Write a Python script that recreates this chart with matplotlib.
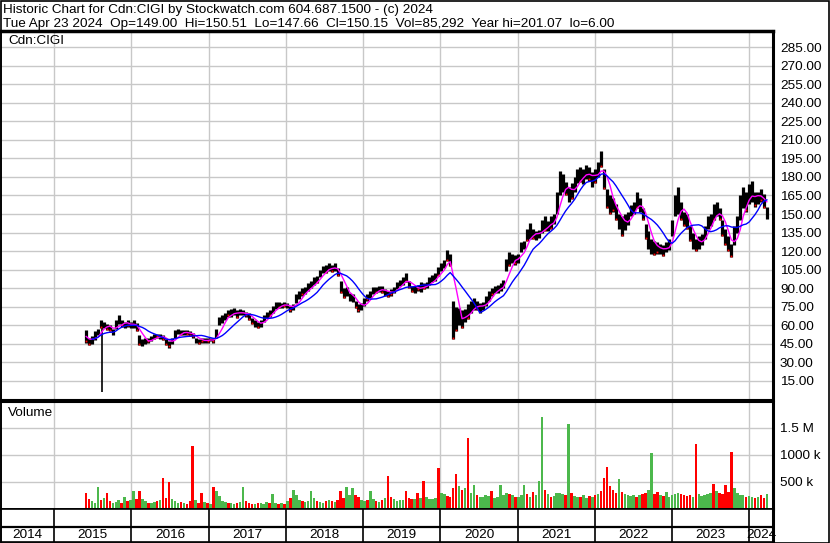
import matplotlib
matplotlib.use('Agg')
import matplotlib.pyplot as plt
from matplotlib.patches import Rectangle
import pandas as pd
import numpy as np

plt.rcParams['font.family'] = ['Liberation Sans', 'DejaVu Sans']
plt.rcParams['font.size'] = 9.7

# ---------------------------------------------------------------------------
# Data (one sample every 14 days from 2015-06-01)
# ---------------------------------------------------------------------------
first_date = '2015-06-01'
last_date = '2024-04-23'

price_lo = [
    46, 44, 45, 48, 52, 58, 58, 56, 55, 52,
    57, 61, 59, 58, 59, 58, 58, 55, 44, 43,
    45, 46, 47, 49, 50, 49, 48, 44, 42, 45,
    50, 53, 52, 52, 52, 51, 50, 46, 45, 46,
    46, 46, 47, 46, 50, 60, 62, 64, 67, 67,
    68, 66, 68, 68, 67, 64, 61, 59, 58, 59,
    63, 66, 67, 70, 73, 74, 74, 75, 74, 71,
    72, 78, 81, 84, 85, 88, 90, 93, 94, 99,
    102, 102, 104, 103, 104, 100, 86, 82, 84, 80,
    79, 74, 71, 72, 76, 80, 82, 85, 86, 87,
    86, 84, 83, 84, 86, 89, 92, 93, 95, 90,
    87, 86, 88, 87, 89, 90, 93, 95, 96, 100,
    104, 106, 112, 108, 49, 55, 60, 58, 63, 65,
    70, 72, 72, 70, 72, 76, 80, 84, 86, 86,
    88, 90, 104, 108, 110, 109, 110, 119, 122, 128,
    130, 130, 129, 131, 135, 136, 136, 138, 142, 150,
    165, 168, 165, 160, 162, 168, 175, 176, 174, 178,
    177, 172, 175, 180, 188, 170, 155, 150, 152, 145,
    138, 132, 137, 141, 148, 150, 155, 152, 145, 130,
    122, 118, 117, 118, 118, 116, 119, 121, 132, 148,
    150, 145, 140, 138, 128, 122, 120, 122, 125, 130,
    138, 140, 145, 148, 145, 132, 125, 120, 115, 125,
    135, 145, 155, 152, 158, 160, 156, 158, 160, 155,
    146,
]

price_hi = [
    56, 50, 51, 55, 57, 64, 63, 61, 60, 57,
    64, 68, 64, 63, 64, 63, 64, 62, 52, 49,
    50, 50, 51, 53, 53, 53, 52, 49, 47, 50,
    56, 57, 56, 56, 56, 55, 54, 50, 49, 50,
    50, 50, 50, 50, 57, 67, 68, 70, 72, 73,
    74, 72, 73, 72, 71, 70, 66, 64, 63, 64,
    68, 71, 72, 76, 79, 79, 78, 79, 78, 76,
    77, 85, 88, 90, 91, 94, 96, 99, 100, 105,
    108, 109, 110, 109, 110, 106, 96, 90, 91, 86,
    85, 80, 77, 78, 82, 85, 88, 91, 91, 92,
    92, 89, 88, 89, 91, 95, 97, 99, 102, 96,
    92, 92, 93, 95, 94, 95, 99, 101, 102, 107,
    110, 113, 121, 118, 80, 75, 74, 72, 73, 77,
    80, 82, 80, 78, 79, 84, 88, 90, 92, 93,
    94, 97, 114, 119, 118, 117, 118, 127, 128, 138,
    143, 138, 136, 137, 145, 148, 144, 148, 150, 168,
    185, 182, 176, 172, 175, 180, 186, 188, 186, 190,
    188, 184, 186, 192, 201, 186, 170, 165, 163, 158,
    150, 148, 150, 152, 157, 160, 168, 163, 155, 142,
    136, 130, 128, 127, 126, 125, 127, 130, 145, 165,
    172, 160, 152, 150, 140, 135, 130, 132, 134, 140,
    148, 150, 158, 160, 155, 145, 138, 132, 126, 140,
    148, 165, 172, 168, 174, 177, 168, 168, 170, 166,
    156,
]

# one-day spike low of the period
spike_date = '2015-08-14'
spike_low = 6.00
spike_high = 62

# daily volume in thousands of shares
volume_k = [
    300, 180, 150, 120, 410, 160, 200, 290, 140, 120,
    130, 160, 110, 220, 150, 170, 330, 180, 340, 190,
    140, 120, 110, 130, 150, 160, 580, 200, 500, 180,
    150, 120, 130, 110, 100, 140, 1160, 160, 120, 300,
    130, 110, 100, 400, 330, 240, 150, 130, 120, 110,
    100, 120, 130, 400, 140, 110, 90, 100, 120, 110,
    100, 130, 110, 270, 120, 100, 110, 90, 140, 200,
    360, 250, 160, 140, 130, 150, 330, 200, 140, 130,
    120, 140, 170, 150, 130, 160, 330, 200, 400, 250,
    380, 260, 220, 170, 150, 160, 340, 180, 140, 130,
    170, 200, 610, 220, 180, 150, 160, 170, 340, 200,
    180, 190, 290, 200, 520, 230, 180, 190, 210, 750,
    300, 280, 240, 230, 380, 650, 420, 350, 380, 1310,
    300, 450, 250, 220, 230, 260, 240, 340, 200, 220,
    440, 250, 300, 280, 250, 230, 220, 260, 440, 270,
    230, 320, 250, 520, 1700, 350, 280, 230, 240, 300,
    290, 270, 260, 1570, 300, 240, 220, 230, 250, 210,
    240, 230, 260, 280, 330, 580, 780, 420, 350, 300,
    550, 310, 280, 260, 240, 250, 230, 260, 280, 300,
    360, 1040, 280, 320, 260, 240, 320, 230, 260, 280,
    300, 270, 250, 240, 260, 230, 1210, 270, 240, 260,
    280, 300, 460, 330, 290, 270, 450, 320, 1060, 380,
    300, 260, 250, 230, 240, 220, 210, 230, 250, 200,
    270,
]

# up (g) / down (r) day for each volume bar
volume_dir = (
    "rrgggrgrrg" "ggrgrggrrg" "grggrgrrrg" "ggrgrrrgrr" "grgrggggrg"
    "grggrrrgrg" "ggrggrgrgr" "gggrggggrg" "grgrgrrrgg" "grrggrggrg"
    "rgrrggggrr" "rgrgrggggr" "ggrrrrgrgr" "ggrggggrgg" "gggrgrgggr"
    "grgggrgrgg" "ggrgrggrgg" "rgrgrrrrrr" "grggggrgrr" "ggrrgrgggg"
    "grrrrgrggg" "ggrgrrrrrg" "gggrggrgrr" "g"
)

years = list(range(2014, 2025))

header_1 = "Historic Chart for Cdn:CIGI by Stockwatch.com 604.687.1500 - (c) 2024"
header_2 = ("Tue Apr 23 2024  Op=149.00  Hi=150.51  Lo=147.66  Cl=150.15  "
            "Vol=85,292  Year hi=201.07  lo=6.00")

# ---------------------------------------------------------------------------
dates = pd.date_range(first_date, periods=len(price_lo), freq='14D')
lo = np.array(price_lo, dtype=float)
hi = np.array(price_hi, dtype=float)
mid = pd.Series((lo + hi) / 2, index=dates)
ma_short = mid.rolling(4, min_periods=1).mean()
ma_long = mid.rolling(10, min_periods=3).mean()

x_start = pd.Timestamp(last_date) - pd.Timedelta(days=3652)
x_end = pd.Timestamp(last_date)
year_starts = [pd.Timestamp(f'{y}-01-01') for y in years if y > 2014]

W, H = 830, 543


def box(x0, y0, x1, y1):
    return [x0 / W, 1 - y1 / H, (x1 - x0) / W, (y1 - y0) / H]


fig = plt.figure(figsize=(W / 100, H / 100), dpi=100)
ax_p = fig.add_axes(box(1, 31, 773, 400))
ax_v = fig.add_axes(box(1, 402, 773, 509))
ax_y = fig.add_axes(box(1, 509, 773, 542))

grid_c = '#c8c8c8'

# ---- price panel
ax_p.vlines(dates, lo, hi, color='black', lw=2.3)
ax_p.vlines(pd.Timestamp(spike_date), spike_low, spike_high, color='black', lw=1.2)
down = np.array([c == 'r' for c in volume_dir])
ax_p.plot(dates[down], lo[down] + 1, ls='none', marker='s', ms=1.3,
          mew=0, color='red')
ax_p.plot(dates, ma_short, color='#ff00ff', lw=1.0)
ax_p.plot(dates, ma_long, color='#0000ff', lw=1.0)

ax_p.set_xlim(x_start, x_end)
ax_p.set_ylim(-0.4, 298)
ax_p.set_yticks(np.arange(15, 286, 15))
ax_p.set_yticklabels([f'{v:.2f}' for v in np.arange(15, 286, 15)])
ax_p.yaxis.tick_right()
ax_p.set_xticks(year_starts)
ax_p.tick_params(axis='x', length=0, labelbottom=False)
ax_p.tick_params(axis='y', length=0, pad=5)
ax_p.grid(True, color=grid_c, lw=1)
ax_p.set_axisbelow(True)
ax_p.text(0.009, 0.972, 'Cdn:CIGI', transform=ax_p.transAxes, va='center')

# ---- volume panel
vol_colors = ['#ff0000' if c == 'r' else '#4cb84c' for c in volume_dir]
ax_v.bar(dates, np.array(volume_k) * 1000, width=12, color=vol_colors)
ax_v.set_xlim(x_start, x_end)
ax_v.set_ylim(0, 1.98e6)
ax_v.set_yticks([500e3, 1e6, 1.5e6])
ax_v.set_yticklabels(['500 k', '1000 k', '1.5 M'])
ax_v.yaxis.tick_right()
ax_v.set_xticks(year_starts)
ax_v.tick_params(axis='x', length=0, labelbottom=False)
ax_v.tick_params(axis='y', length=0, pad=5)
ax_v.grid(True, color=grid_c, lw=1)
ax_v.set_axisbelow(True)
ax_v.text(0.009, 0.895, 'Volume', transform=ax_v.transAxes, va='center')

# ---- year row
ax_y.set_xlim(x_start, x_end)
ax_y.set_ylim(0, 1)
ax_y.axhline(0.455, color='black', lw=1.6)
for d in year_starts:
    ax_y.axvline(d, color='black', lw=1.2)
for y in years:
    a = max(pd.Timestamp(f'{y}-01-01'), x_start)
    b = min(pd.Timestamp(f'{y + 1}-01-01'), x_end)
    ax_y.text(a + (b - a) / 2, 0.2, str(y), ha='center', va='center')
ax_y.set_xticks([])
ax_y.set_yticks([])

for ax in (ax_p, ax_v, ax_y):
    for s in ax.spines.values():
        s.set_color('black')
        s.set_linewidth(1.2)
    ax.spines['right'].set_linewidth(2.2)
ax_p.spines['top'].set_linewidth(2.5)
ax_p.spines['bottom'].set_linewidth(1.5)
ax_v.spines['top'].set_linewidth(1.5)
ax_v.spines['bottom'].set_linewidth(2)

# ---- header and outer frame
fig.text(3 / W, 1 - 13 / H, header_1, va='baseline')
fig.text(3 / W, 1 - 27 / H, header_2, va='baseline')
fig.add_artist(Rectangle((0.5 / W, 0.5 / H), 1 - 1.5 / W, 1 - 1.5 / H,
                         transform=fig.transFigure, fill=False, ec='black', lw=1.2))

fig.savefig('out.png', dpi=100)
